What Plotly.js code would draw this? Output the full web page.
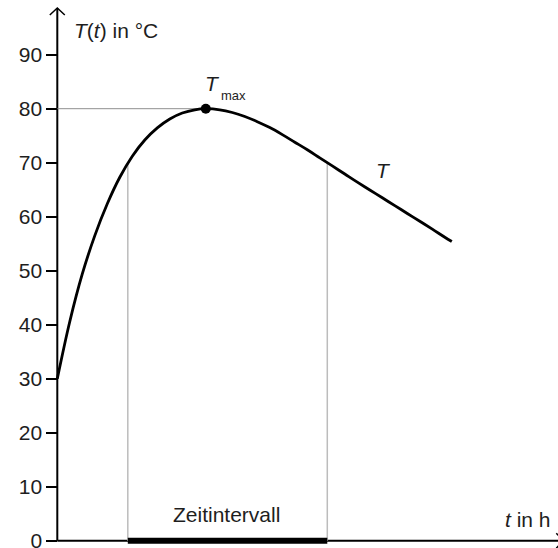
<!DOCTYPE html>
<html>
<head>
<meta charset="utf-8">
<script src="https://cdn.plot.ly/plotly-3.0.1.min.js"></script>
<style>html,body{margin:0;padding:0;background:#fff;}#chart{width:558px;height:548px;}</style>
</head>
<body>
<div id="chart"></div>
<script>
// Curve T(t)
const tValues = [0, 0.25, 0.5, 0.75, 1.0, 1.25, 1.5, 1.75, 2.0, 2.25, 2.5, 2.75, 2.97, 3.25, 3.5, 3.75, 4.0, 4.25, 4.5, 4.75, 5.0, 5.25, 5.5, 5.75, 6.0, 6.25, 6.5, 6.75, 7.0, 7.25, 7.5, 7.75, 7.89];
const TValues = [30, 40.6, 49.4, 56.5, 62.4, 67.3, 71.2, 74.2, 76.45, 78.1, 79.2, 79.8, 80, 79.8, 79.3, 78.55, 77.6, 76.5, 75.2, 73.8, 72.4, 70.9, 69.4, 67.9, 66.4, 64.95, 63.5, 62.05, 60.6, 59.15, 57.7, 56.2, 55.4];
// Maximum
const tMax = 2.97;
const TMax = 80;
// Time interval where T >= 70
const intervalStart = 1.41;
const intervalEnd = 5.40;
const intervalLevel = 70;
// Y axis ticks
const yTicks = [0, 10, 20, 30, 40, 50, 60, 70, 80, 90];
const yTickLabels = ["0", "10", "20", "30", "40", "50", "60", "70", "80", "90"];
// Axis extents
const xRange = [-1.146, 10.014];
const yRange = [-1.352, 100.13];
const yAxisTop = 98.65;
const xAxisTip = 10.12;

const FONT = "Liberation Sans, Arial, Helvetica, sans-serif";
const TXT = "#1e1e1e";

const traces = [
  { x: [0, tMax], y: [TMax, TMax], mode: "lines", line: {color: "#8f8f8f", width: 1}, hoverinfo: "skip" },
  { x: [intervalStart, intervalStart], y: [0, intervalLevel], mode: "lines", line: {color: "#bcbcbc", width: 1.5}, hoverinfo: "skip" },
  { x: [intervalEnd, intervalEnd], y: [0, intervalLevel], mode: "lines", line: {color: "#bcbcbc", width: 1.5}, hoverinfo: "skip" },
  { x: tValues, y: TValues, mode: "lines", line: {color: "#000", width: 2.8, shape: "spline", smoothing: 1}, hoverinfo: "skip" },
  { x: [intervalStart, intervalEnd], y: [0, 0], mode: "lines", line: {color: "#000", width: 6}, hoverinfo: "skip" },
  { x: [tMax], y: [TMax], mode: "markers", marker: {color: "#000", size: 10}, hoverinfo: "skip" }
];

const layout = {
  width: 558, height: 548,
  margin: {l: 0, r: 0, t: 0, b: 0},
  paper_bgcolor: "#fff", plot_bgcolor: "#fff",
  showlegend: false,
  font: {family: FONT, color: TXT, size: 21},
  xaxis: { range: xRange, visible: false, fixedrange: true },
  yaxis: {
    range: yRange, anchor: "free", position: 57.3 / 558,
    tickvals: yTicks, ticktext: yTickLabels,
    ticks: "outside", ticklen: 11, tickwidth: 2, tickcolor: "#000",
    ticklabeloverflow: "allow",
    showgrid: false, zeroline: false, showline: false,
    tickfont: {family: FONT, size: 21, color: TXT},
    fixedrange: true
  },
  shapes: [
    { type: "line", xref: "x", yref: "y", x0: 0, x1: 0, y0: 0, y1: yAxisTop, line: {color: "#000", width: 2}, layer: "below" },
    { type: "line", xref: "x", yref: "y", x0: 0, x1: xAxisTip, y0: 0, y1: 0, line: {color: "#000", width: 2}, layer: "below" },
    { type: "path", xref: "x", yref: "y", xsizemode: "pixel", ysizemode: "pixel", xanchor: 0, yanchor: yAxisTop,
      path: "M-7.5,-7 L0,0 L7.5,-7", line: {color: "#000", width: 1.5} },
    { type: "path", xref: "x", yref: "y", xsizemode: "pixel", ysizemode: "pixel", xanchor: xAxisTip, yanchor: 0,
      path: "M-7,7.5 L0,0 L-7,-7.5", line: {color: "#000", width: 1.5} }
  ],
  annotations: [
    { x: 0.29, y: 94.4, xref: "x", yref: "y", xanchor: "left", yanchor: "middle", showarrow: false,
      text: "<i>T</i>(<i>t</i>) in °C", font: {family: FONT, size: 21, color: TXT} },
    { x: 3.094, y: 84.6, xref: "x", yref: "y", xanchor: "center", yanchor: "middle", showarrow: false,
      text: "<i>T</i>", font: {family: FONT, size: 21, color: TXT} },
    { x: 3.234, y: 82.4, xref: "x", yref: "y", xanchor: "left", yanchor: "middle", showarrow: false,
      text: "max", font: {family: FONT, size: 13, color: TXT} },
    { x: 6.53, y: 68.55, xref: "x", yref: "y", xanchor: "center", yanchor: "middle", showarrow: false,
      text: "<i>T</i>", font: {family: FONT, size: 21, color: TXT} },
    { x: 3.38, y: 4.9, xref: "x", yref: "y", xanchor: "center", yanchor: "middle", showarrow: false,
      text: "Zeitintervall", font: {family: FONT, size: 21, color: TXT} },
    { x: 9.42, y: 3.85, xref: "x", yref: "y", xanchor: "center", yanchor: "middle", showarrow: false,
      text: "<i>t</i> in h", font: {family: FONT, size: 21, color: TXT} }
  ]
};

Plotly.newPlot("chart", traces, layout, {staticPlot: true, displayModeBar: false});
</script>
</body>
</html>
